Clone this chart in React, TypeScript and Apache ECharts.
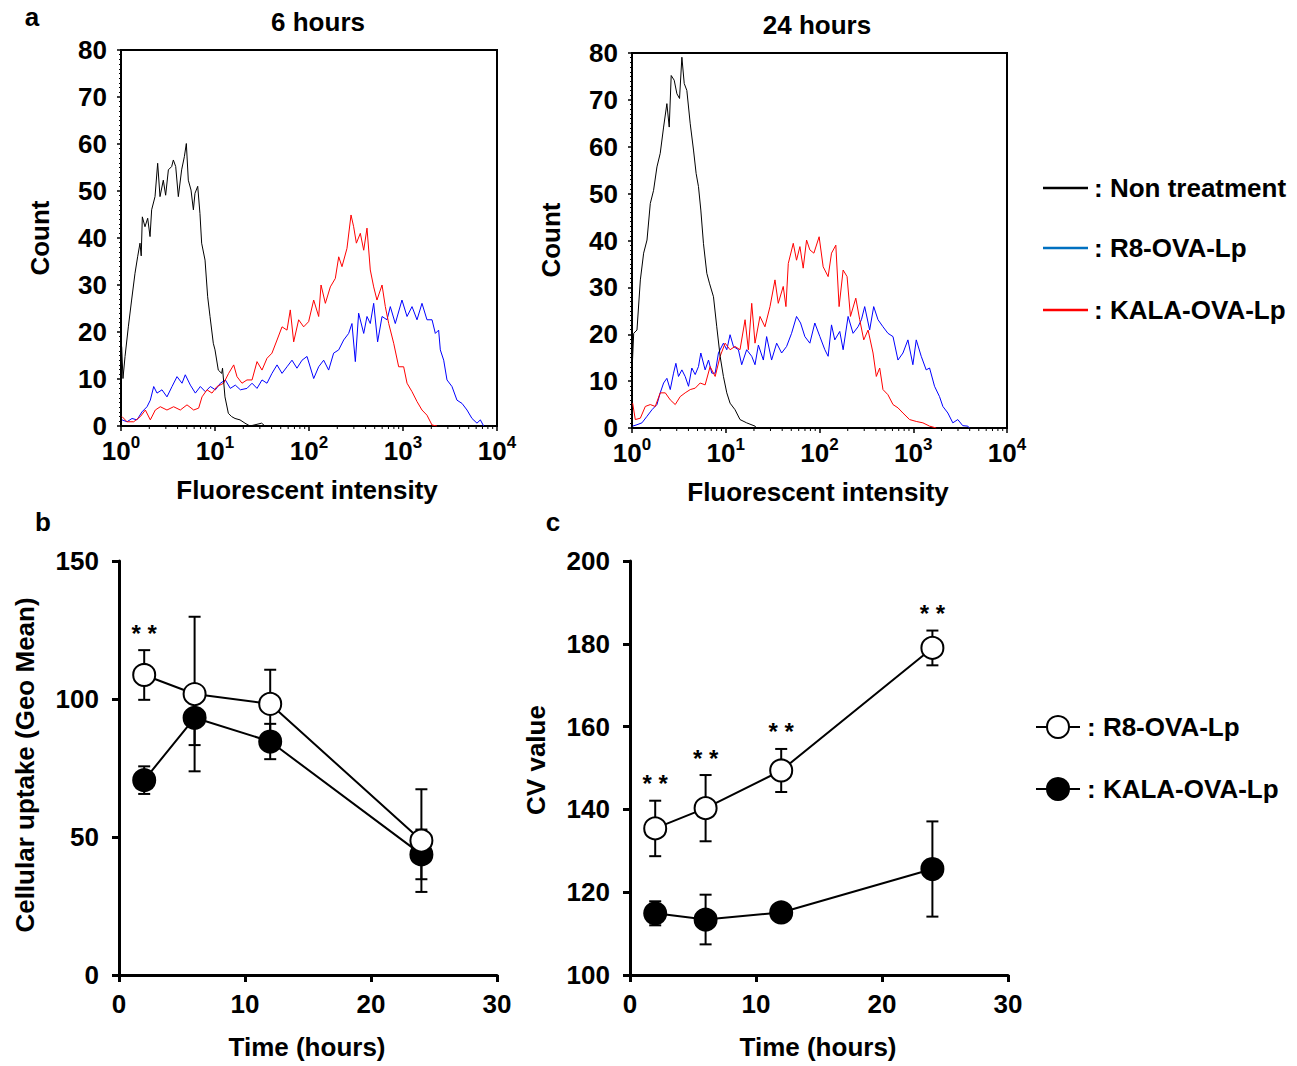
import React, { useEffect, useRef } from "react";
import * as echarts from "echarts";

const FONT = '"Liberation Sans", Arial, Helvetica, sans-serif';

// ---------- Panel a: histograms, points are [log10(intensity), count] ----------
const black6h: number[][] = [
  [0.007, 16.9], [0.021, 10.1], [0.043, 14.8], [0.078, 21.1], [0.113, 26.8], [0.149, 32.5], [0.177, 36],
  [0.202, 38.9], [0.215, 36.2], [0.227, 44.5], [0.255, 42.4], [0.284, 44.2], [0.309, 40.3], [0.326, 46],
  [0.362, 48.8], [0.390, 55.9], [0.415, 48.8], [0.450, 52.3], [0.475, 49.1], [0.504, 54.5], [0.539, 55.2],
  [0.557, 56.6], [0.582, 55.2], [0.610, 48.8], [0.645, 54.5], [0.674, 57.3], [0.695, 60.1], [0.716, 52.3],
  [0.745, 50.2], [0.770, 46], [0.787, 49.5], [0.816, 51], [0.840, 45.2], [0.858, 38.9], [0.894, 35.3],
  [0.922, 27.5], [0.947, 23.3], [0.982, 17.6], [1.0, 16.2], [1.035, 11.9], [1.071, 11.2], [1.080, 12.3],
  [1.106, 6.2], [1.142, 2.7], [1.177, 2], [1.213, 1.6], [1.266, 1.3], [1.319, 0.6], [1.372, 0],
  [1.496, 0.6], [1.532, 0],
];
const blue6h: number[][] = [
  [0.011, 1.3], [0.064, 0.9], [0.117, 1.6], [0.170, 1.3], [0.223, 3], [0.277, 4.1], [0.312, 5.5],
  [0.348, 8.4], [0.383, 7], [0.436, 7.7], [0.489, 6.2], [0.543, 8.4], [0.596, 10.5], [0.649, 9.1],
  [0.684, 10.9], [0.738, 8.7], [0.791, 7], [0.844, 8.4], [0.897, 7.3], [0.950, 8.4], [1.004, 7.7],
  [1.057, 9.1], [1.110, 9.8], [1.163, 8], [1.216, 8.7], [1.270, 7.7], [1.340, 8], [1.394, 9.1],
  [1.447, 8], [1.500, 9.8], [1.553, 9.1], [1.606, 11.2], [1.660, 13], [1.713, 11.2], [1.766, 12.6],
  [1.819, 14], [1.872, 12.3], [1.926, 14], [1.979, 14.8], [2.050, 10.1], [2.103, 12.6], [2.156, 14],
  [2.209, 11.9], [2.262, 15.5], [2.316, 16.2], [2.369, 18.3], [2.422, 19.7], [2.457, 21.8], [2.493, 13.7],
  [2.528, 24], [2.582, 19.7], [2.617, 23.3], [2.652, 21.8], [2.688, 26.1], [2.730, 17.9], [2.777, 23.3],
  [2.830, 22.6], [2.865, 25.4], [2.918, 21.8], [2.989, 26.8], [3.043, 23.3], [3.096, 25.4], [3.149, 22.6],
  [3.202, 26.1], [3.255, 22.6], [3.309, 22.6], [3.344, 19.7], [3.379, 20.4], [3.397, 16.2], [3.433, 14],
  [3.468, 9.8], [3.521, 8.4], [3.574, 5.5], [3.628, 4.8], [3.681, 3.4], [3.734, 1.6], [3.787, 0.6],
  [3.823, 1.3], [3.858, 0],
];
const red6h: number[][] = [
  [0.011, 2], [0.064, 0.9], [0.135, 0.9], [0.206, 2], [0.259, 3.4], [0.312, 1.3], [0.365, 3.4],
  [0.418, 4.1], [0.489, 3.4], [0.560, 4.1], [0.631, 3.4], [0.702, 4.5], [0.773, 3.4], [0.826, 3.8],
  [0.862, 6.2], [0.915, 7.7], [0.968, 7], [1.021, 8.4], [1.092, 9.1], [1.145, 11.2], [1.199, 13],
  [1.234, 10.5], [1.287, 9.1], [1.340, 9.8], [1.394, 9.8], [1.447, 13.7], [1.500, 11.9], [1.553, 14.4],
  [1.606, 15.5], [1.660, 18.3], [1.713, 21.1], [1.766, 20.4], [1.801, 24.7], [1.837, 17.9], [1.890, 22.6],
  [1.943, 21.1], [1.996, 22.2], [2.050, 26.8], [2.103, 23.3], [2.128, 30], [2.174, 26.1], [2.227, 29.6],
  [2.280, 31.4], [2.316, 36], [2.351, 33.9], [2.404, 37.8], [2.447, 44.9], [2.475, 42.4], [2.504, 38.9],
  [2.546, 41], [2.582, 37.4], [2.617, 42.1], [2.652, 33.2], [2.688, 29.6], [2.723, 26.8], [2.777, 30],
  [2.812, 25.4], [2.848, 21.8], [2.901, 17.6], [2.954, 12.6], [3.007, 12.6], [3.043, 9.1], [3.096, 7.3],
  [3.149, 5.2], [3.202, 3.4], [3.255, 2.3], [3.309, 0.2], [3.362, 0],
];
const black24h: number[][] = [
  [0.004, 13.8], [0.018, 20.2], [0.053, 20.9], [0.089, 31.6], [0.124, 37.3], [0.160, 40.1], [0.195, 47.9],
  [0.230, 50.7], [0.266, 55.7], [0.301, 58.6], [0.337, 64.2], [0.372, 69.2], [0.397, 64.2], [0.418, 75.2],
  [0.450, 74.2], [0.479, 71.3], [0.507, 70.3], [0.532, 79.1], [0.557, 73.5], [0.585, 72], [0.621, 64.9],
  [0.656, 59.3], [0.684, 54.3], [0.709, 51.5], [0.734, 46.5], [0.762, 39.4], [0.798, 33], [0.826, 30.9],
  [0.869, 28], [0.904, 21.6], [0.940, 15.3], [0.975, 11], [1.011, 7.5], [1.046, 5.3], [1.099, 3.9],
  [1.152, 1.8], [1.223, 1.1], [1.312, 0.4], [1.330, 0],
];
const blue24h: number[][] = [
  [0.007, 0.4], [0.053, 0.7], [0.106, 1.1], [0.160, 2.5], [0.213, 3.9], [0.266, 5], [0.301, 7.5],
  [0.337, 9.6], [0.372, 10.6], [0.408, 8.2], [0.443, 11.7], [0.468, 13.8], [0.496, 11], [0.532, 12.4],
  [0.567, 11], [0.603, 8.9], [0.638, 12.8], [0.674, 11.4], [0.709, 13.1], [0.734, 16], [0.780, 12.4],
  [0.816, 14.5], [0.851, 11.7], [0.887, 11.7], [0.922, 16], [0.975, 18.1], [1.011, 16.7], [1.046, 19.9],
  [1.082, 17.4], [1.135, 16.7], [1.170, 13.5], [1.223, 16.7], [1.277, 15.3], [1.312, 13.5], [1.348, 17.7],
  [1.401, 14.5], [1.436, 19.5], [1.489, 14.5], [1.543, 18.1], [1.596, 16], [1.649, 17.4], [1.702, 20.2],
  [1.755, 23.8], [1.798, 22.4], [1.844, 19.5], [1.897, 18.1], [1.950, 22.4], [2.004, 19.5], [2.057, 16.7],
  [2.092, 15.3], [2.128, 22], [2.163, 18.8], [2.216, 20.6], [2.252, 16.7], [2.305, 23.8], [2.358, 20.2],
  [2.411, 21.6], [2.447, 23.1], [2.482, 25.9], [2.535, 20.9], [2.578, 25.9], [2.624, 23.1], [2.677, 21.6],
  [2.730, 20.2], [2.784, 19.5], [2.837, 14.5], [2.890, 16], [2.943, 18.8], [2.996, 13.5], [3.032, 18.8],
  [3.085, 15.3], [3.138, 12.4], [3.174, 12.8], [3.227, 8.9], [3.280, 6.7], [3.316, 4.6], [3.369, 3.2],
  [3.422, 1.1], [3.475, 1.8], [3.528, 0.5], [3.582, 0.4], [3.599, 0],
];
const red24h: number[][] = [
  [0.007, 5.3], [0.035, 1.8], [0.089, 2.1], [0.142, 4.6], [0.195, 5], [0.248, 4.6], [0.301, 7.5],
  [0.355, 7.5], [0.408, 6], [0.461, 5], [0.514, 6.7], [0.567, 7.5], [0.621, 8.2], [0.674, 8.5],
  [0.727, 9.6], [0.780, 9.2], [0.833, 13.1], [0.887, 11], [0.940, 15.3], [0.993, 18.1], [1.046, 16.7],
  [1.099, 17.4], [1.152, 16.7], [1.206, 23.1], [1.241, 16.7], [1.277, 26.6], [1.312, 18.1], [1.365, 23.8],
  [1.418, 21.6], [1.472, 25.9], [1.525, 31.6], [1.560, 26.6], [1.613, 30.2], [1.642, 25.9], [1.667, 35.1],
  [1.720, 39.4], [1.755, 35.8], [1.791, 38.7], [1.826, 34.1], [1.862, 40.1], [1.897, 38], [1.940, 37.3],
  [1.996, 40.8], [2.039, 34.4], [2.092, 32.3], [2.128, 37.3], [2.174, 39], [2.209, 25.9], [2.252, 33.7],
  [2.294, 32.3], [2.330, 23.8], [2.387, 27.7], [2.429, 23.1], [2.472, 18.8], [2.518, 20.9], [2.571, 16],
  [2.606, 11], [2.642, 12.8], [2.677, 8.2], [2.730, 7.1], [2.784, 5], [2.837, 4.3], [2.890, 3.2],
  [2.961, 1.8], [3.032, 1.4], [3.103, 1.1], [3.174, 0.4], [3.245, 0],
];
const decadeLabels = [0, 1, 2, 3, 4];
const minorMultipliers = [2, 3, 4, 5, 6, 7, 8, 9];

// ---------- Panels b and c ----------
const timePoints = [2, 6, 12, 24];
const uptakeR8 = [108.7, 101.8, 98.2, 48.7];
const uptakeR8Err = [9, 28, 12.4, 18.6];
const uptakeKALA = [70.6, 93.2, 84.6, 43.7];
const uptakeKALAErr = [5, 9.9, 6.4, 9];
const uptakeSig = [true, false, false, false];
const cvR8 = [135.4, 140.3, 149.4, 179];
const cvR8Err = [6.7, 8, 5.2, 4.2];
const cvKALA = [114.9, 113.4, 115.1, 125.6];
const cvKALAErr = [2.9, 6, 1, 11.5];
const cvSig = [true, true, true, true];

const labelStyle = { fontFamily: FONT, fontWeight: "bold", fontSize: 26, color: "#000" };

function txt(text: string, x: number, y: number, extra: any = {}) {
  return {
    type: "text",
    x,
    y,
    rotation: extra.rotation || 0,
    style: {
      text,
      fill: extra.fill || "#000",
      font: `bold ${extra.size || 26}px ${FONT}`,
      align: extra.align || "center",
      verticalAlign: "middle",
      textAlign: extra.align || "center",
      textVerticalAlign: "middle",
    },
  };
}

export default function App() {
  const ref = useRef<HTMLDivElement>(null);
  useEffect(() => {
    if (!ref.current) return;
    const chart = echarts.init(ref.current, null, { renderer: "svg" });

    const grids = [
      { left: 121, top: 50, width: 376, height: 376, show: true, borderColor: "#000", borderWidth: 2 },
      { left: 632, top: 53, width: 375, height: 375, show: true, borderColor: "#000", borderWidth: 2 },
      { left: 119, top: 561, width: 378, height: 414 },
      { left: 630, top: 561, width: 378, height: 414 },
    ].map((g) => ({ ...g, containLabel: false, outerBoundsMode: "none" }));

    const histX = (gi: number) => ({
      type: "value",
      gridIndex: gi,
      min: 0,
      max: 4,
      interval: 1,
      axisLine: { show: true, onZero: false, lineStyle: { color: "#000", width: 2 } },
      axisTick: { show: true, length: 5, lineStyle: { color: "#000", width: 1.5 } },
      splitLine: { show: false },
      axisLabel: {
        margin: 8,
        formatter: (v: number) => (decadeLabels.includes(v) ? `{b|10}{s|${v}}` : ""),
        rich: {
          b: { ...labelStyle, fontSize: 26, lineHeight: 30, verticalAlign: "bottom" },
          s: { ...labelStyle, fontSize: 17, lineHeight: 30, verticalAlign: "top" },
        },
      },
    });
    const histY = (gi: number) => ({
      type: "value",
      gridIndex: gi,
      min: 0,
      max: 80,
      interval: 10,
      axisLine: { show: true, onZero: false, lineStyle: { color: "#000", width: 2 } },
      axisTick: { show: true, length: 4, lineStyle: { color: "#000", width: 1.5 } },
      minorTick: { show: true, splitNumber: 10, length: 2, lineStyle: { color: "#000", width: 1 } },
      splitLine: { show: false },
      minorSplitLine: { show: false },
      axisLabel: { ...labelStyle, margin: 14 },
    });
    const timeX = (gi: number) => ({
      type: "value",
      gridIndex: gi,
      min: 0,
      max: 30,
      interval: 10,
      axisLine: { show: true, onZero: false, lineStyle: { color: "#000", width: 3 } },
      axisTick: { show: true, length: 7, lineStyle: { color: "#000", width: 3 } },
      splitLine: { show: false },
      axisLabel: { ...labelStyle, margin: 16 },
    });
    const valY = (gi: number, min: number, max: number, interval: number) => ({
      type: "value",
      gridIndex: gi,
      min,
      max,
      interval,
      axisLine: { show: true, onZero: false, lineStyle: { color: "#000", width: 3 } },
      axisTick: { show: true, length: 7, lineStyle: { color: "#000", width: 3 } },
      splitLine: { show: false },
      axisLabel: { ...labelStyle, margin: 20 },
    });

    const minorTickData: number[][] = [];
    for (let d = 0; d < 4; d++) for (const m of minorMultipliers) minorTickData.push([d + Math.log10(m), 0]);

    const minorTickSeries = (gi: number) => ({
      type: "custom",
      xAxisIndex: gi,
      yAxisIndex: gi,
      data: minorTickData,
      silent: true,
      clip: false,
      renderItem: (_p: any, api: any) => {
        const p = api.coord([api.value(0), 0]);
        return {
          type: "line",
          shape: { x1: p[0], y1: p[1], x2: p[0], y2: p[1] + 3 },
          style: { stroke: "#000", lineWidth: 1 },
        };
      },
    });

    const hist = (gi: number, data: number[][], color: string, z: number) => ({
      type: "line",
      xAxisIndex: gi,
      yAxisIndex: gi,
      data,
      symbol: "none",
      showSymbol: false,
      lineStyle: { color, width: 1 },
      z,
      silent: true,
    });

    const errSeries = (gi: number, means: number[], errs: number[]) => ({
      type: "custom",
      xAxisIndex: gi,
      yAxisIndex: gi,
      z: 1,
      silent: true,
      clip: false,
      data: timePoints.map((t, i) => [t, means[i] - errs[i], means[i] + errs[i]]),
      encode: { x: 0, y: [1, 2] },
      renderItem: (_p: any, api: any) => {
        const hi = api.coord([api.value(0), api.value(2)]);
        const lo = api.coord([api.value(0), api.value(1)]);
        const w = 6;
        const st = { stroke: "#000", lineWidth: 2 };
        return {
          type: "group",
          children: [
            { type: "line", shape: { x1: hi[0], y1: hi[1], x2: lo[0], y2: lo[1] }, style: st },
            { type: "line", shape: { x1: hi[0] - w, y1: hi[1], x2: hi[0] + w, y2: hi[1] }, style: st },
            { type: "line", shape: { x1: lo[0] - w, y1: lo[1], x2: lo[0] + w, y2: lo[1] }, style: st },
          ],
        };
      },
    });

    const sigSeries = (gi: number, means: number[], errs: number[], sig: boolean[]) => ({
      type: "custom",
      xAxisIndex: gi,
      yAxisIndex: gi,
      silent: true,
      clip: false,
      z: 5,
      data: timePoints.map((t, i) => [t, means[i] + errs[i]]).filter((_, i) => sig[i]),
      renderItem: (_p: any, api: any) => {
        const p = api.coord([api.value(0), api.value(1)]);
        return {
          type: "text",
          x: p[0],
          y: p[1] - 17,
          style: {
            text: "* *",
            fill: "#000",
            font: `bold 24px ${FONT}`,
            align: "center",
            verticalAlign: "middle",
          },
        };
      },
    });

    const meanLine = (gi: number, means: number[], fill: string) => ({
      type: "line",
      xAxisIndex: gi,
      yAxisIndex: gi,
      data: timePoints.map((t, i) => [t, means[i]]),
      symbol: "circle",
      symbolSize: 22,
      showSymbol: true,
      itemStyle: { color: fill, borderColor: "#000", borderWidth: 2 },
      lineStyle: { color: "#000", width: 2 },
      z: 3,
      silent: true,
    });

    const graphic: any[] = [
      txt("a", 32, 17),
      txt("b", 43, 522),
      txt("c", 553, 522),
      txt("6 hours", 318, 22),
      txt("24 hours", 817, 25),
      txt("Count", 40, 238, { rotation: Math.PI / 2 }),
      txt("Count", 551, 240, { rotation: Math.PI / 2 }),
      txt("Fluorescent intensity", 307, 490),
      txt("Fluorescent intensity", 818, 492),
      txt("Cellular uptake (Geo Mean)", 25, 765, { rotation: Math.PI / 2 }),
      txt("CV value", 536, 760, { rotation: Math.PI / 2 }),
      txt("Time (hours)", 307, 1047),
      txt("Time (hours)", 818, 1047),
      // top legend
      { type: "line", shape: { x1: 1043, y1: 188, x2: 1088, y2: 188 }, style: { stroke: "#000", lineWidth: 2.5 } },
      { type: "line", shape: { x1: 1043, y1: 248, x2: 1088, y2: 248 }, style: { stroke: "#0070C0", lineWidth: 2.5 } },
      { type: "line", shape: { x1: 1043, y1: 310, x2: 1088, y2: 310 }, style: { stroke: "#FF0000", lineWidth: 2.5 } },
      txt(": Non treatment", 1094, 188, { align: "left" }),
      txt(": R8-OVA-Lp", 1094, 248, { align: "left" }),
      txt(": KALA-OVA-Lp", 1094, 310, { align: "left" }),
      // bottom legend
      { type: "line", shape: { x1: 1036, y1: 727, x2: 1080, y2: 727 }, style: { stroke: "#000", lineWidth: 2 } },
      { type: "circle", shape: { cx: 1058, cy: 727, r: 11 }, style: { fill: "#fff", stroke: "#000", lineWidth: 2 } },
      { type: "line", shape: { x1: 1036, y1: 789, x2: 1080, y2: 789 }, style: { stroke: "#000", lineWidth: 2 } },
      { type: "circle", shape: { cx: 1058, cy: 789, r: 11 }, style: { fill: "#000", stroke: "#000", lineWidth: 2 } },
      txt(": R8-OVA-Lp", 1087, 727, { align: "left" }),
      txt(": KALA-OVA-Lp", 1087, 789, { align: "left" }),
    ];

    chart.setOption({
      animation: false,
      backgroundColor: "#fff",
      grid: grids,
      xAxis: [histX(0), histX(1), timeX(2), timeX(3)],
      yAxis: [histY(0), histY(1), valY(2, 0, 150, 50), valY(3, 100, 200, 20)],
      graphic,
      series: [
        minorTickSeries(0),
        minorTickSeries(1),
        hist(0, blue6h, "#0000FF", 2),
        hist(0, red6h, "#FF0000", 3),
        hist(0, black6h, "#000000", 4),
        hist(1, blue24h, "#0000FF", 2),
        hist(1, red24h, "#FF0000", 3),
        hist(1, black24h, "#000000", 4),
        errSeries(2, uptakeR8, uptakeR8Err),
        errSeries(2, uptakeKALA, uptakeKALAErr),
        meanLine(2, uptakeKALA, "#000"),
        meanLine(2, uptakeR8, "#fff"),
        sigSeries(2, uptakeR8, uptakeR8Err, uptakeSig),
        errSeries(3, cvR8, cvR8Err),
        errSeries(3, cvKALA, cvKALAErr),
        meanLine(3, cvKALA, "#000"),
        meanLine(3, cvR8, "#fff"),
        sigSeries(3, cvR8, cvR8Err, cvSig),
      ],
    });
    return () => chart.dispose();
  }, []);

  return (
    <div
      ref={ref}
      style={{ position: "absolute", left: 0, top: 0, width: 1297, height: 1066, background: "#fff" }}
    />
  );
}
